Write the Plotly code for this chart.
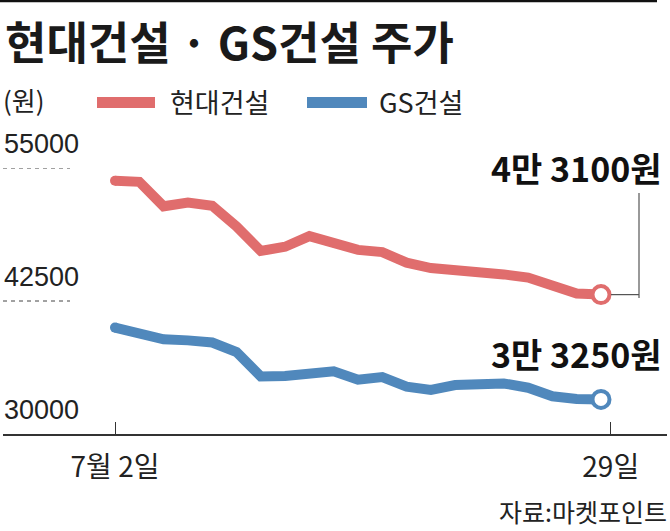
import plotly.graph_objects as go

# ---- data ----
days = list(range(21))
hyundai = [53800, 53700, 51400, 51750, 51450, 49500, 47200, 47600, 48600, 47950,
           47300, 47100, 46100, 45600, 45450, 45300, 45000, 44700, 43900, 43200, 43100]
gs = [40000, 39500, 38900, 38800, 38600, 37700, 35400, 35450, 35700, 35900,
      35100, 35350, 34450, 34150, 34600, 34750, 34750, 34350, 33550, 33300, 33250]
x_tick_pos = [0, 20.4]
x_tick_text = ["7월 2일", "29일"]
y_ticks = [55000, 42500, 30000]
series_names = ["현대건설", "GS건설"]
end_labels = ["4만 3100원", "3만 3250원"]

RED = "#E06D6D"
BLUE = "#5088BC"
KR = "Noto Sans CJK KR"
NUM = "Liberation Sans, Noto Sans CJK KR, sans-serif"

W, H = 670, 531
ML, MR, MT, MB = 3, 3, 168, 97
PW, PH = W - ML - MR, H - MT - MB


def px(p):
    return (p - ML) / PW


def py(p):
    return (H - MB - p) / PH


fig = go.Figure()
for vals, col, name in [(hyundai, RED, series_names[0]), (gs, BLUE, series_names[1])]:
    fig.add_trace(go.Scatter(x=days, y=vals, mode="lines", name=name,
                             line=dict(color=col, width=10), showlegend=False))
    fig.add_trace(go.Scatter(x=[days[0]], y=[vals[0]], mode="markers",
                             marker=dict(size=10, color=col), showlegend=False))
    fig.add_trace(go.Scatter(x=[days[-1]], y=[vals[-1]], mode="markers",
                             marker=dict(size=17, color="white", line=dict(color=col, width=4)),
                             showlegend=False))

shapes = []
# top rule
shapes.append(dict(type="line", xref="paper", yref="paper", x0=px(0), x1=px(657),
                   y0=py(1), y1=py(1), line=dict(color="#111", width=2.5)))
# dashed reference segments
for v in y_ticks[:2]:
    shapes.append(dict(type="line", xref="paper", yref="y", x0=px(3), x1=px(70),
                       y0=v, y1=v, line=dict(color="#444", width=1, dash="4px,4px")))
# legend bars
shapes.append(dict(type="rect", xref="paper", yref="paper", x0=px(97), x1=px(155),
                   y0=py(108), y1=py(97), fillcolor=RED, line=dict(width=0)))
shapes.append(dict(type="rect", xref="paper", yref="paper", x0=px(307), x1=px(367),
                   y0=py(108), y1=py(97), fillcolor=BLUE, line=dict(width=0)))
# leader line for red end label
shapes.append(dict(type="line", xref="paper", yref="y", x0=px(611), x1=px(639),
                   y0=hyundai[-1], y1=hyundai[-1], line=dict(color="#555", width=1.2)))
shapes.append(dict(type="line", xref="paper", yref="paper", x0=px(639), x1=px(639),
                   y0=py(193), y1=py(298), line=dict(color="#555", width=1.2)))

ann = []
ann.append(dict(text="<b>현대건설 · GS건설 주가</b>", xref="paper", yref="paper",
                x=px(3), y=py(40), xanchor="left", yanchor="middle", showarrow=False,
                font=dict(family=KR, size=45, color="#1a1a1a")))
ann.append(dict(text="(원)", xref="paper", yref="paper", x=px(1), y=py(99),
                xanchor="left", yanchor="middle", showarrow=False,
                font=dict(family=KR, size=26, color="#222")))
ann.append(dict(text=series_names[0], xref="paper", yref="paper", x=px(168), y=py(101),
                xanchor="left", yanchor="middle", showarrow=False,
                font=dict(family=KR, size=27, color="#222")))
ann.append(dict(text=series_names[1], xref="paper", yref="paper", x=px(377), y=py(101),
                xanchor="left", yanchor="middle", showarrow=False,
                font=dict(family=KR, size=27, color="#222")))
for v in y_ticks:
    ann.append(dict(text=str(v), xref="paper", yref="y", x=px(2), y=v,
                    xanchor="left", yanchor="bottom", yshift=7, showarrow=False,
                    font=dict(family=NUM, size=27, color="#222")))
ann.append(dict(text="<b>" + end_labels[0] + "</b>", xref="paper", yref="paper",
                x=px(664), y=py(167), xanchor="right", yanchor="middle", showarrow=False,
                font=dict(family=KR, size=34, color="#111")))
ann.append(dict(text="<b>" + end_labels[1] + "</b>", xref="paper", yref="paper",
                x=px(664), y=py(353), xanchor="right", yanchor="middle", showarrow=False,
                font=dict(family=KR, size=34, color="#111")))
ann.append(dict(text="자료:마켓포인트", xref="paper", yref="paper", x=px(669), y=py(511),
                xanchor="right", yanchor="middle", showarrow=False,
                font=dict(family=KR, size=25, color="#222")))

fig.update_layout(
    width=W, height=H,
    margin=dict(l=ML, r=MR, t=MT, b=MB, pad=0),
    paper_bgcolor="white", plot_bgcolor="white",
    shapes=shapes, annotations=ann,
    xaxis=dict(range=[-4.609, 22.716], showgrid=False, zeroline=False,
               showline=True, linecolor="#333", linewidth=1.5,
               tickmode="array", tickvals=x_tick_pos, ticktext=x_tick_text,
               ticks="inside", ticklen=12, tickcolor="#333", tickwidth=1,
               ticklabelstandoff=8,
               tickfont=dict(family=KR, size=28, color="#222"), fixedrange=True),
    yaxis=dict(range=[30000, 55000], visible=False, fixedrange=True),
)

fig.write_html("out.html", config={"displayModeBar": False},
               post_script="document.body.style.margin='0';document.body.style.overflow='hidden';")
